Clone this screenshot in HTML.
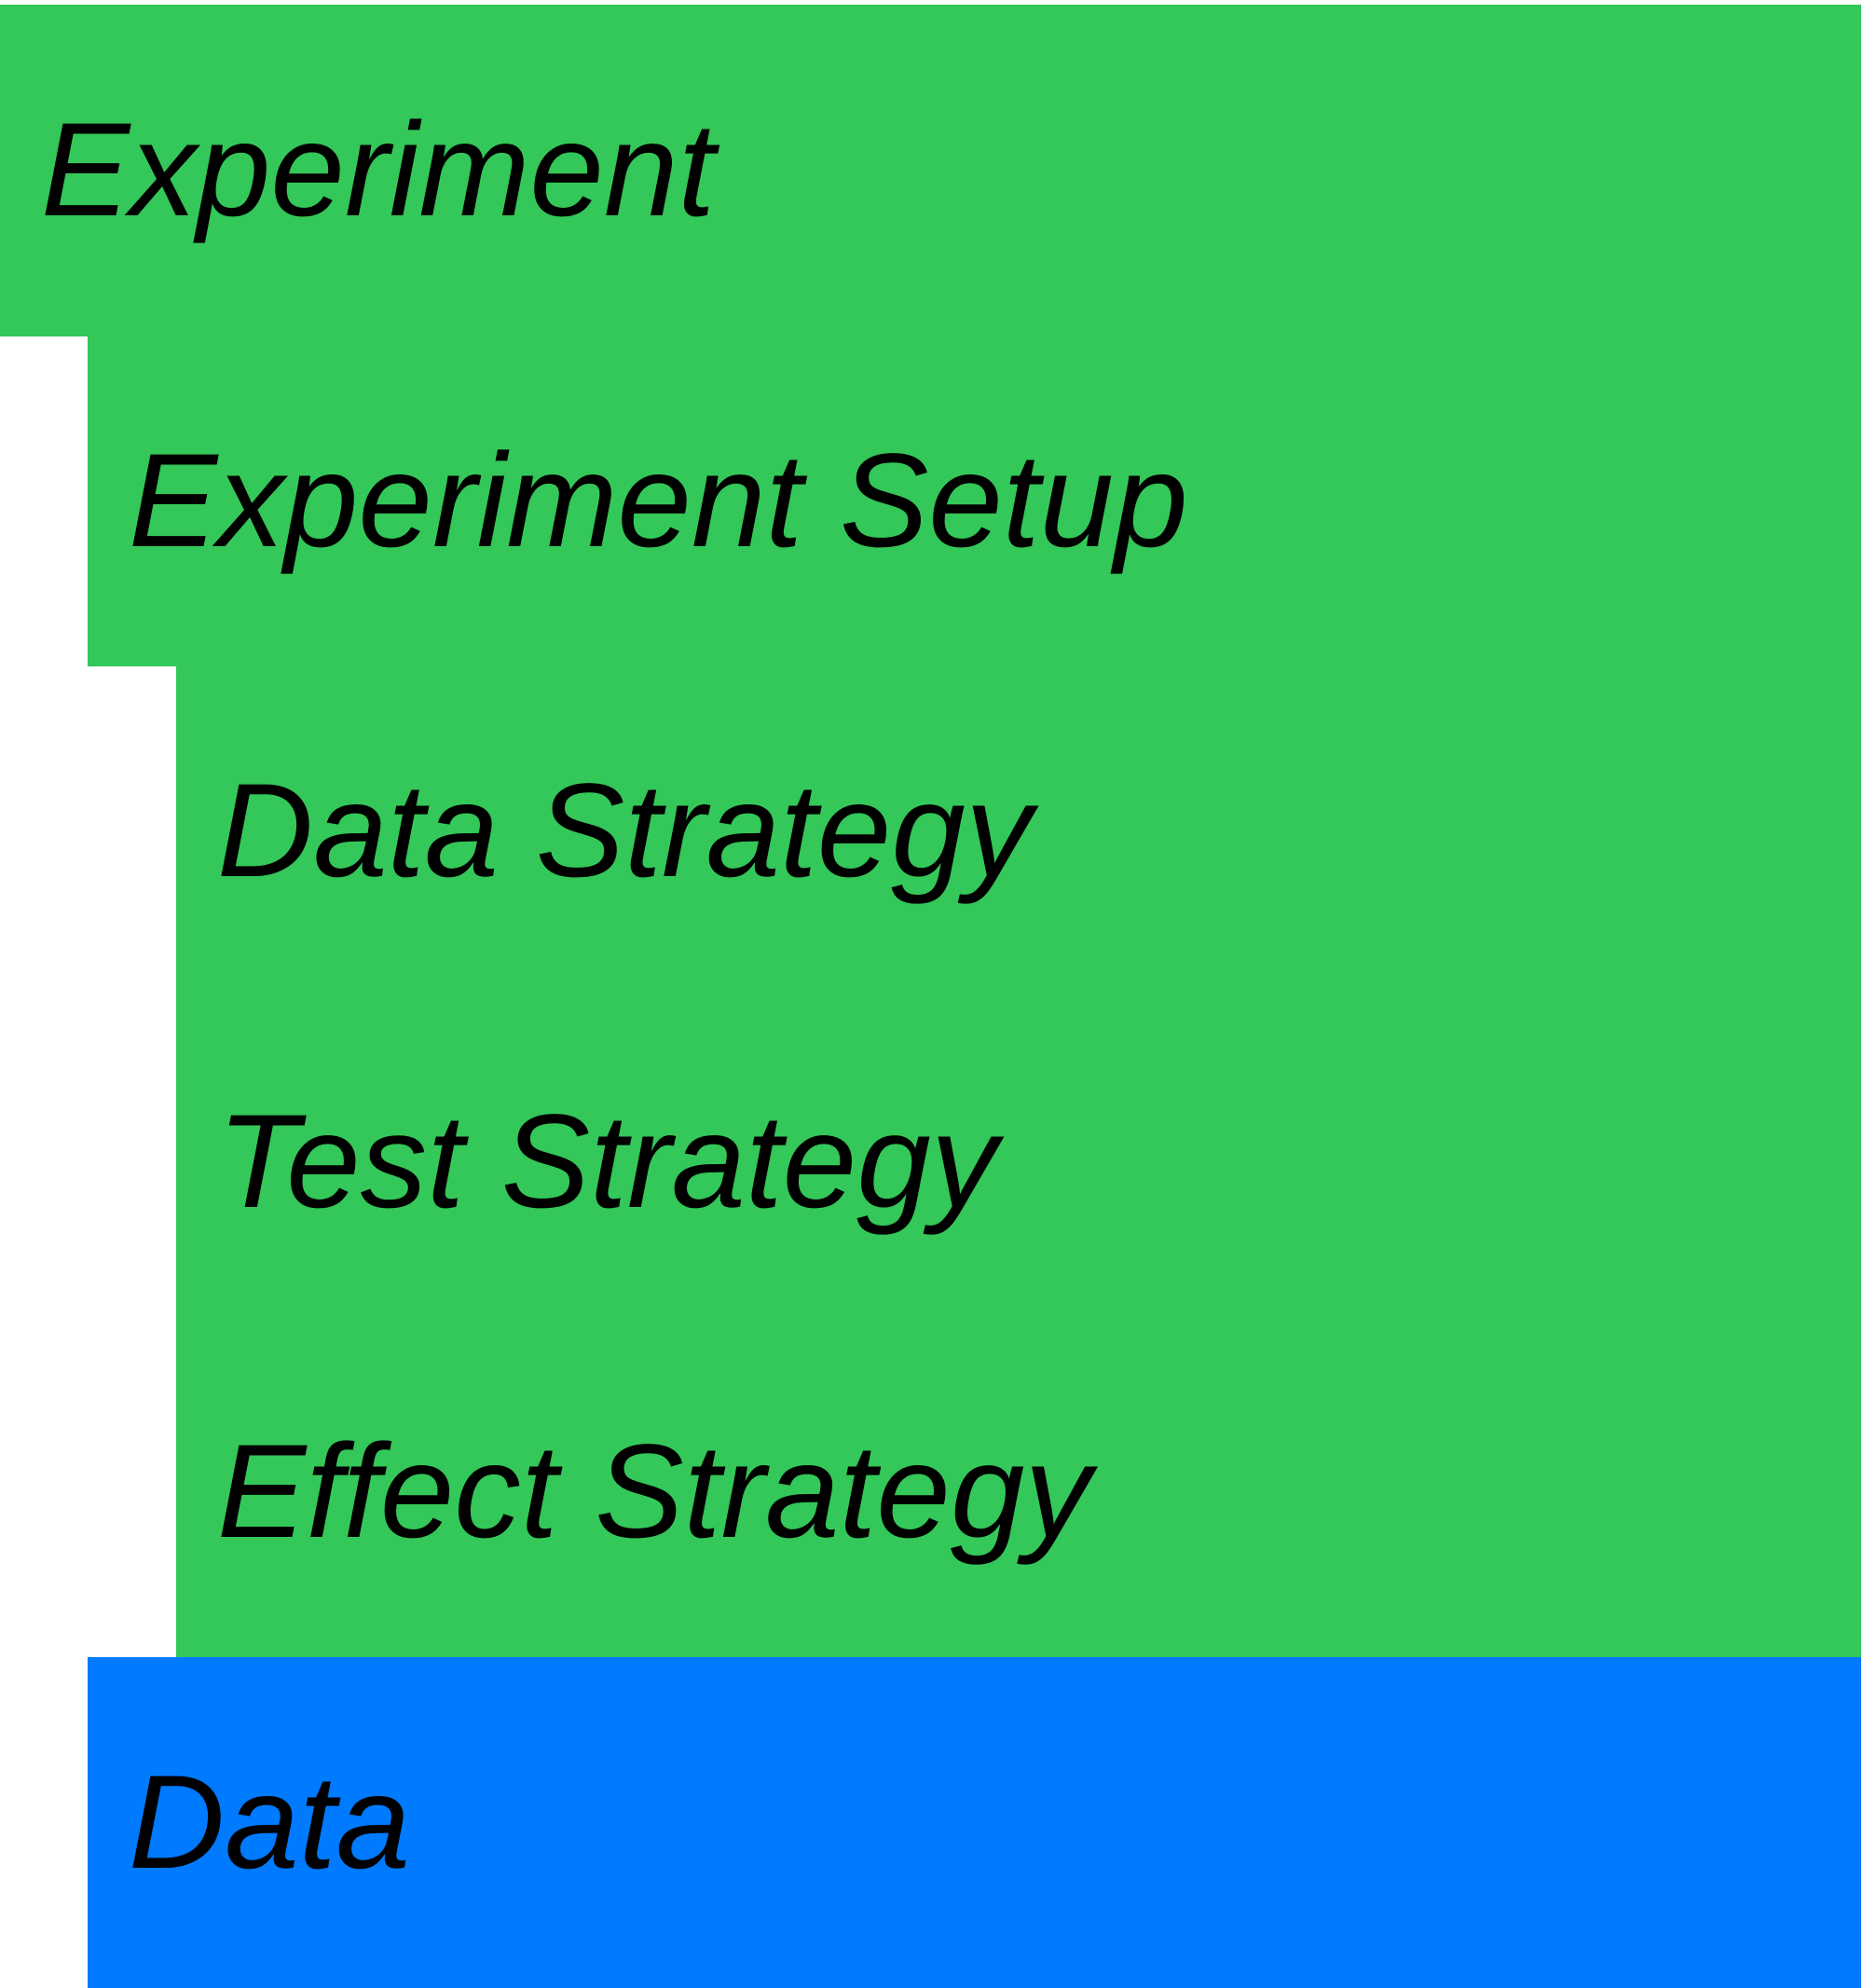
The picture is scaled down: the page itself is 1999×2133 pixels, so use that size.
<!DOCTYPE html>
<html><head><style>
html,body{margin:0;padding:0;width:1999px;height:2133px;background:#fff;overflow:hidden}
.b{position:absolute;right:2px}
.g{background:#34c759}
.bl{background:#007aff}
.t{position:absolute;font-family:"Liberation Sans",sans-serif;font-style:italic;font-size:143px;line-height:1;color:#000;white-space:nowrap}
</style></head><body>
<div class="b g" style="top:5px;left:0;height:356px"></div>
<div class="b g" style="top:361px;left:94px;height:354px"></div>
<div class="b g" style="top:715px;left:189px;height:1063px"></div>
<div class="b bl" style="top:1778px;left:94px;height:355px"></div>
<div class="t" style="top:111px;left:44px">Experiment</div>
<div class="t" style="top:466px;left:138px">Experiment Setup</div>
<div class="t" style="top:820px;left:233px">Data Strategy</div>
<div class="t" style="top:1175px;left:233px">Test Strategy</div>
<div class="t" style="top:1529px;left:233px">Effect Strategy</div>
<div class="t" style="top:1884px;left:138px">Data</div>
</body></html>
